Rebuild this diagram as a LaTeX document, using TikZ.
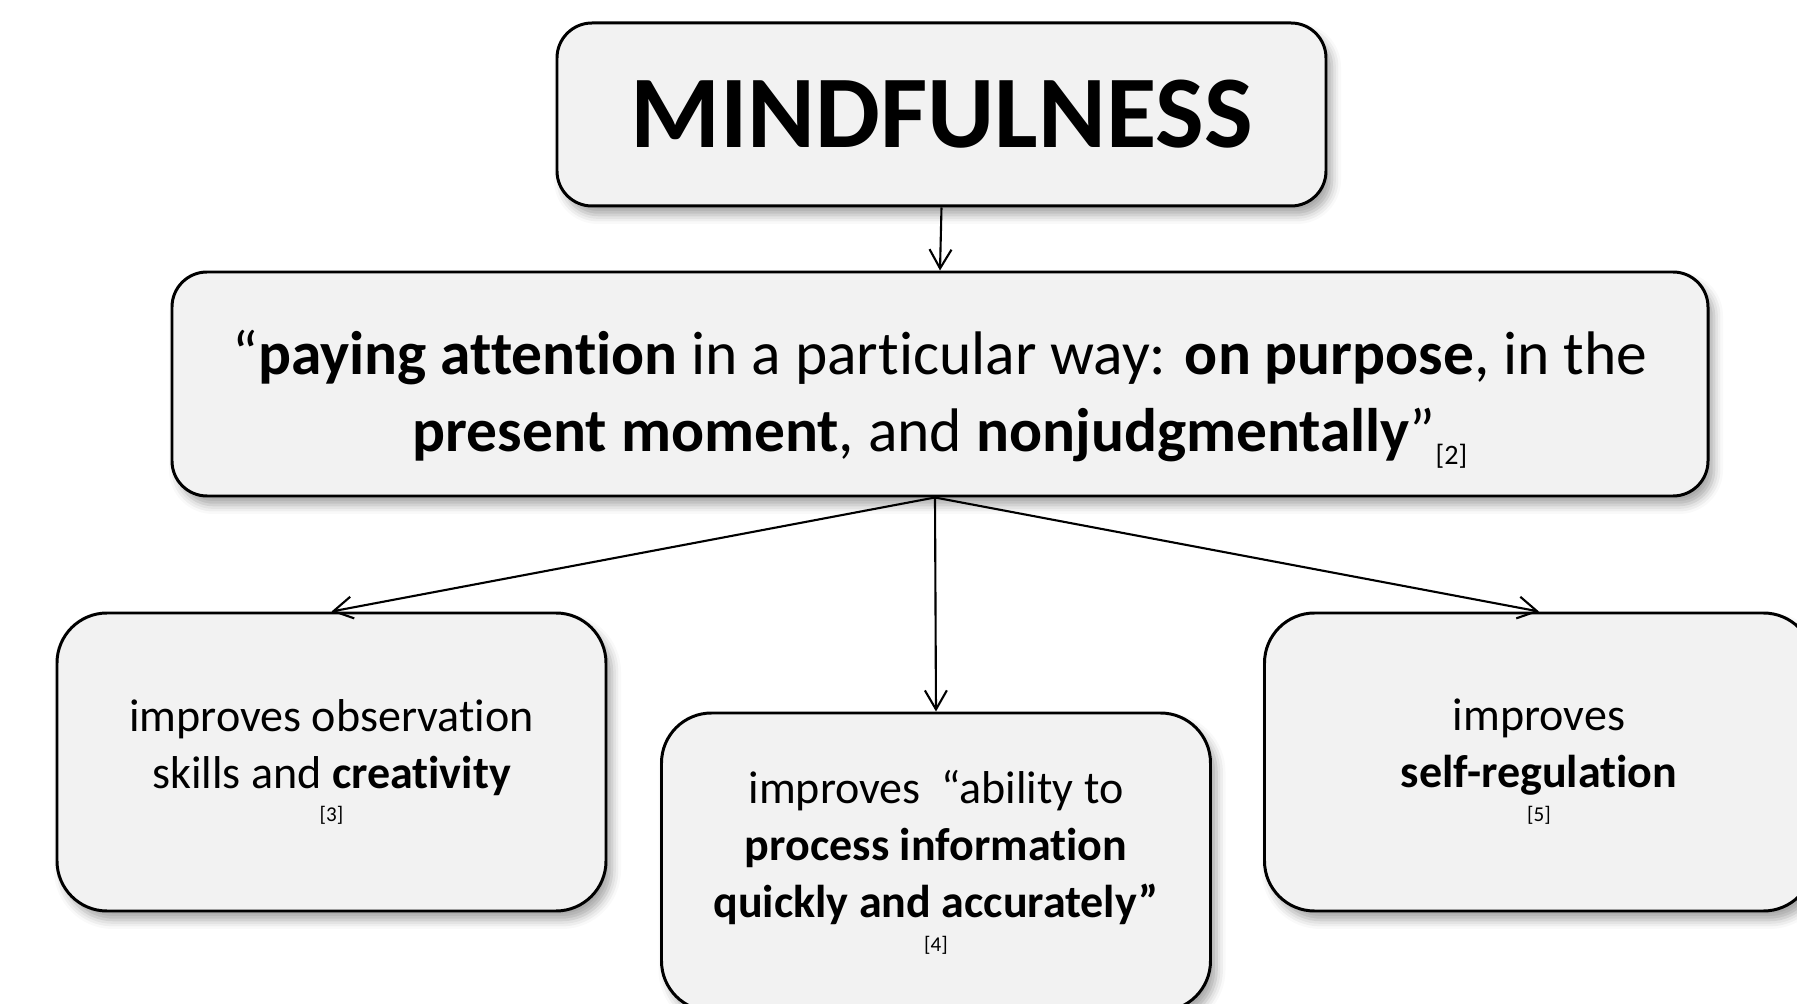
\documentclass[tikz,border=0pt]{standalone}
\usepackage{fontspec}
\setmainfont{Carlito}[Ligatures=NoCommon]
\usepackage{tikz}
\usetikzlibrary{arrows.meta, shadows.blur}
\definecolor{riquadro}{RGB}{242,242,242}

\begin{document}
\begin{tikzpicture}[
    box/.style = {draw, line width = 0.85pt, fill = riquadro, rounded corners = 3.5mm, align = center,
        blur shadow = {shadow xshift = 0.6mm, shadow yshift = -0.9mm, shadow blur radius = 0.9mm, shadow opacity = 35}},
    smallbox/.style = {box, rounded corners = 5mm, minimum width = 54.9mm, minimum height = 29.8mm,
        font = \fontsize{13.1}{16.2}\selectfont},
    freccia/.style = {-{Straight Barb[length = 1.9mm, width = 2.2mm]}, line width = 0.6pt}
]
    % Parametri
    \pgfmathsetmacro{\larg}{17.97}
    \pgfmathsetmacro{\alt}{10.04}
    \pgfmathsetmacro{\basso}{2.42}
    \useasboundingbox (0,0) rectangle (\larg,\alt);
    % Riquadri
    \node[box, minimum width = 76.9mm, minimum height = 18.3mm,
        font = \fontsize{29.3}{35}\selectfont\bfseries] (titolo) at (9.415,8.895) {\raisebox{-0.3mm}{MINDFULNESS}};
    \node[box, minimum width = 153.6mm, minimum height = 22.4mm] (definizione) at (9.40,6.20) {};
    \node[align = center, font = \fontsize{17.5}{21.9}\selectfont] (citazione) at (9.40,6.05)
        {“\textbf{paying attention} in a particular way: \textbf{on purpose}, in the\\
        \textbf{present moment}, and \textbf{nonjudgmentally}”\raisebox{-1.3mm}{\fontsize{8}{9}\selectfont [2]}};
    \node[smallbox] (osservazione) at (3.315,\basso)
        {improves observation\\ skills and \textbf{creativity}\\[-2.3mm] {\fontsize{6}{7}\selectfont [3]}};
    \node[smallbox] (informazione) at (9.36,1.42)
        {improves ~“ability to\\ \textbf{process information}\\ \textbf{quickly and accurately”}\\[-2.3mm] {\fontsize{6}{7}\selectfont [4]}};
    \node[smallbox] (regolazione) at (15.39,\basso)
        {improves\\ \textbf{self-regulation}\\[-2.3mm] {\fontsize{6}{7}\selectfont [5]}};
    % Frecce
    \coordinate (diramazione) at ([xshift = -0.5mm]definizione.south);
    \draw[freccia] (titolo.south) -- (definizione.north);
    \draw[freccia] (diramazione) -- (osservazione.north);
    \draw[freccia] (diramazione) -- (informazione.north);
    \draw[freccia] (diramazione) -- (regolazione.north);
\end{tikzpicture}
\end{document}
